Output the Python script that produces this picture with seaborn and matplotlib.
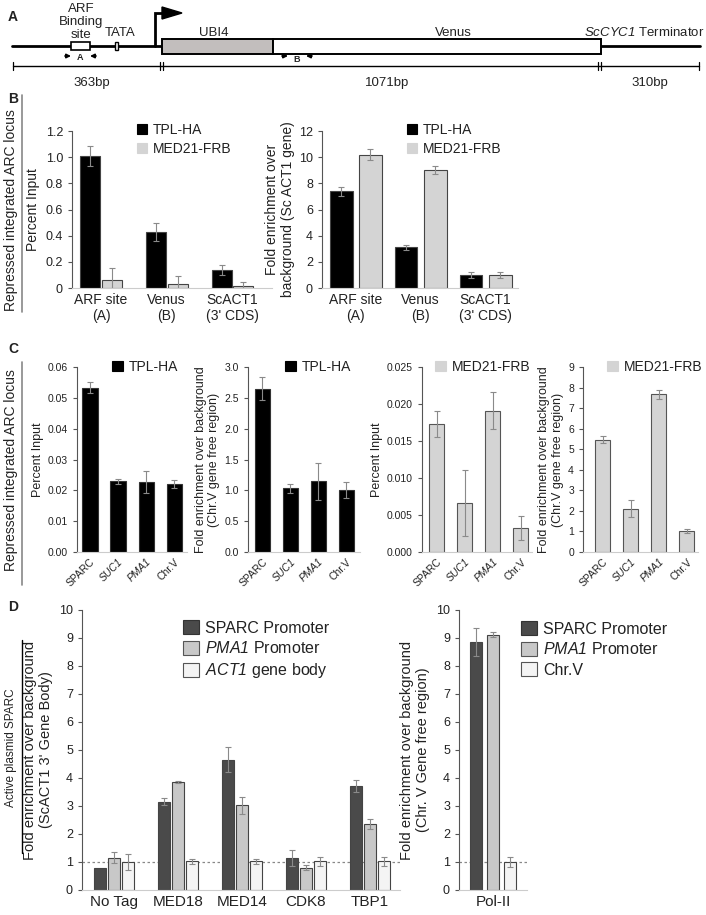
import numpy as np
import pandas as pd
import seaborn as sns
import matplotlib.pyplot as plt
from matplotlib.patches import Rectangle, Polygon, Patch
from matplotlib.lines import Line2D

# -------------------------------
# Style
# -------------------------------
sns.set_style("ticks")
plt.rcParams['font.family'] = ['Liberation Sans', 'DejaVu Sans']
# mathtext is only used for the italic gene names
plt.rcParams['mathtext.fontset'] = 'custom'
plt.rcParams['mathtext.rm'] = 'Liberation Sans:italic'
plt.rcParams['mathtext.it'] = 'Liberation Sans:italic'
plt.rcParams['mathtext.default'] = 'it'
plt.rcParams['text.color'] = '#222222'
plt.rcParams['axes.labelcolor'] = '#222222'
plt.rcParams['xtick.color'] = '#222222'
plt.rcParams['ytick.color'] = '#222222'

# -------------------------------
# Data
# -------------------------------
# A: construct map
seg_bp = ["363bp", "1071bp", "310bp"]

# B: repressed integrated ARC locus
b_sites = ["ARF site\n(A)", "Venus\n(B)", "ScACT1\n(3' CDS)"]
b_series = ["TPL-HA", "MED21-FRB"]
b_pct_tpl = [1.01, 0.43, 0.14]
b_pct_tpl_err = [0.075, 0.068, 0.038]
b_pct_med = [0.06, 0.03, 0.015]
b_pct_med_err = [0.09, 0.065, 0.03]
b_fold_tpl = [7.4, 3.1, 1.0]
b_fold_tpl_err = [0.35, 0.2, 0.2]
b_fold_med = [10.2, 9.0, 1.0]
b_fold_med_err = [0.45, 0.3, 0.2]

# C: SPARC / SUC1 / PMA1 / Chr.V
c_genes = ["SPARC", "SUC1", "PMA1", "Chr.V"]
c_tpl_pct = [0.0533, 0.0230, 0.0226, 0.0221]
c_tpl_pct_err = [0.0018, 0.0008, 0.0036, 0.0013]
c_tpl_fold = [2.65, 1.03, 1.15, 1.01]
c_tpl_fold_err = [0.19, 0.08, 0.30, 0.13]
c_med_pct = [0.0173, 0.0066, 0.0191, 0.0032]
c_med_pct_err = [0.0018, 0.0045, 0.0025, 0.0016]
c_med_fold = [5.47, 2.1, 7.68, 1.03]
c_med_fold_err = [0.15, 0.42, 0.22, 0.10]

# D: active plasmid SPARC
d_factors = ["No Tag", "MED18", "MED14", "CDK8", "TBP1"]
d_series = ["SPARC Promoter", "$PMA1$ Promoter", "$ACT1$ gene body"]
d_sparc = [0.80, 3.15, 4.65, 1.15, 3.72]
d_sparc_err = [0.0, 0.12, 0.45, 0.28, 0.22]
d_pma1 = [1.15, 3.86, 3.02, 0.80, 2.35]
d_pma1_err = [0.20, 0.05, 0.30, 0.08, 0.18]
d_act1 = [1.00, 1.02, 1.02, 1.02, 1.02]
d_act1_err = [0.30, 0.08, 0.08, 0.15, 0.15]
pol_series = ["SPARC Promoter", "$PMA1$ Promoter", "Chr.V"]
pol_vals = [8.85, 9.12, 1.0]
pol_err = [0.5, 0.1, 0.18]

W, H = 706, 915
fig = plt.figure(figsize=(W / 100, H / 100), dpi=100)


def px_axes(x0, y0, x1, y1):
    return fig.add_axes([x0 / W, 1 - y1 / H, (x1 - x0) / W, (y1 - y0) / H])


def draw_bars(ax, cats, series, values, errors, colors, width, gap, edge="#444444"):
    df = pd.DataFrame({
        "cat": [c for s in series for c in cats],
        "series": [s for s in series for c in cats],
        "value": [v for vals in values for v in vals],
        "err": [e for errs in errors for e in errs],
    })
    sns.barplot(data=df, x="cat", y="value", hue="series", order=cats, hue_order=series,
                palette=colors, width=width, gap=gap, edgecolor=edge, linewidth=0.8,
                errorbar=None, legend=False, ax=ax)
    for cont, s in zip(list(ax.containers), series):
        sub = df[df.series == s].set_index("cat")
        for bar in cont:
            xc = bar.get_x() + bar.get_width() / 2
            e = sub.loc[cats[int(round(xc))], "err"]
            if e > 0:
                ax.errorbar(xc, bar.get_height(), yerr=e, fmt="none", ecolor="#8a8a8a",
                            elinewidth=0.8, capsize=2, capthick=0.8)
    ax.set_xlabel("")
    ax.set_ylabel("")
    sns.despine(ax=ax)
    ax.spines['bottom'].set_color('#cccccc')
    ax.spines['left'].set_color('#555555')
    ax.spines['left'].set_linewidth(0.8)
    ax.tick_params(axis='x', length=0)
    ax.tick_params(axis='y', length=3, width=0.8, color='#555555')
    return df


def add_legend(ax, labels, colors, edges, x, y, size, box, spacing):
    handles = [Patch(facecolor=c, edgecolor=e, linewidth=0.8) for c, e in zip(colors, edges)]
    ax.legend(handles, labels, loc="upper left", bbox_to_anchor=(x / W, 1 - y / H),
              bbox_transform=fig.transFigure, frameon=False, fontsize=size,
              handlelength=box, handleheight=box, handletextpad=0.4,
              labelspacing=spacing, borderpad=0, borderaxespad=0)


# -------------------------------
# Panel A: construct schematic
# -------------------------------
axA = fig.add_axes([0, 1 - 96 / H, 1, 96 / H])
axA.set_xlim(0, W)
axA.set_ylim(96, 0)
axA.axis('off')
axA.plot([12, 162], [46, 46], color='k', lw=2)
axA.plot([601, 700], [46, 46], color='k', lw=2)
axA.add_patch(Rectangle((71, 42), 19, 8, fc='white', ec='k', lw=1.2, zorder=3))
axA.add_patch(Rectangle((115, 42), 3, 8, fc='white', ec='k', lw=1.0, zorder=3))
axA.add_patch(Rectangle((162, 39), 111, 15, fc='#c2bebd', ec='k', lw=1.4, zorder=3))
axA.add_patch(Rectangle((273, 39), 328, 15, fc='white', ec='k', lw=1.4, zorder=3))
axA.plot([155, 155, 163], [46, 13, 13], color='k', lw=2, solid_joinstyle='miter')
axA.add_patch(Polygon([(162, 7), (162, 19), (182, 13)], closed=True, fc='k', ec='k'))
axA.text(81, 22, "ARF\nBinding\nsite", ha='center', va='center', fontsize=9.5, linespacing=1.15)
axA.text(120, 33, "TATA", ha='center', va='center', fontsize=9.5)
axA.text(214, 33, "UBI4", ha='center', va='center', fontsize=9.5)
axA.text(453, 33, "Venus", ha='center', va='center', fontsize=9.5)
axA.text(704, 33, "$ScCYC1$ Terminator", ha='right', va='center', fontsize=9.5)
for x0, d in [(65, 1), (96, -1), (282, 1), (312, -1)]:
    axA.annotate("", xy=(x0 + 6 * d, 56), xytext=(x0, 56),
                 arrowprops=dict(arrowstyle='-|>', color='k', lw=1.2, mutation_scale=6,
                                 shrinkA=0, shrinkB=0))
axA.text(80, 58, "A", ha='center', va='center', fontsize=6.5, weight='bold')
axA.text(297, 59, "B", ha='center', va='center', fontsize=6.5, weight='bold')
axA.plot([13, 699], [66, 66], color='k', lw=1)
for xt in [13, 160, 163, 598, 601, 699]:
    axA.plot([xt, xt], [62, 70], color='k', lw=0.9)
for xt, lab in zip([92, 387, 650], seg_bp):
    axA.text(xt, 83, lab, ha='center', va='center', fontsize=9.5)

# -------------------------------
# Section labels and side bars
# -------------------------------
for lab, yy in [("A", 17), ("B", 99), ("C", 349), ("D", 607)]:
    fig.text(8 / W, 1 - yy / H, lab, fontsize=10, weight='bold', va='center', ha='left')
fig.add_artist(Line2D([22 / W, 22 / W], [1 - 95 / H, 1 - 312 / H], color='#888888', lw=1.2))
fig.add_artist(Line2D([22 / W, 22 / W], [1 - 362 / H, 1 - 585 / H], color='#888888', lw=1.2))
fig.add_artist(Line2D([22 / W, 22 / W], [1 - 640 / H, 1 - 853 / H], color='k', lw=1.0))
fig.text(11 / W, 1 - 210 / H, "Repressed integrated ARC locus", rotation=90,
         fontsize=10, ha='center', va='center')
fig.text(11 / W, 1 - 470 / H, "Repressed integrated ARC locus", rotation=90,
         fontsize=10, ha='center', va='center')
fig.text(11 / W, 1 - 748 / H, "Active plasmid SPARC", rotation=90,
         fontsize=8.5, ha='center', va='center')

tpl_col, med_col = "#000000", "#d4d4d4"

# -------------------------------
# Panel B
# -------------------------------
axB1 = px_axes(72, 131, 272, 288)
draw_bars(axB1, b_sites, b_series, [b_pct_tpl, b_pct_med], [b_pct_tpl_err, b_pct_med_err],
          [tpl_col, med_col], width=0.66, gap=0.08)
axB1.set_xlim(-0.44, 2.6)
axB1.set_ylim(0, 1.2)
axB1.set_yticks([0, 0.2, 0.4, 0.6, 0.8, 1.0, 1.2], ["0", "0.2", "0.4", "0.6", "0.8", "1.0", "1.2"])
axB1.set_ylabel("Percent Input", fontsize=10)
axB1.tick_params(axis='y', labelsize=9)
axB1.tick_params(axis='x', labelsize=10)
add_legend(axB1, b_series, [tpl_col, med_col], [tpl_col, med_col], 137, 123, 10, 0.75, 0.35)

axB2 = px_axes(322, 131, 518, 288)
draw_bars(axB2, b_sites, b_series, [b_fold_tpl, b_fold_med], [b_fold_tpl_err, b_fold_med_err],
          [tpl_col, med_col], width=0.9, gap=0.22)
axB2.set_xlim(-0.52, 2.5)
axB2.set_ylim(0, 12)
axB2.set_yticks(range(0, 13, 2))
axB2.set_ylabel("Fold enrichment over\nbackground (Sc ACT1 gene)", fontsize=10, labelpad=3)
axB2.tick_params(axis='y', labelsize=9)
axB2.tick_params(axis='x', labelsize=10)
add_legend(axB2, b_series, [tpl_col, med_col], [tpl_col, med_col], 407, 123, 10, 0.75, 0.35)

# -------------------------------
# Panel C
# -------------------------------
c_specs = [
    ((77, 367, 187, 552), (-0.46, 3.45), c_tpl_pct, c_tpl_pct_err, tpl_col, "TPL-HA",
     np.arange(0, 0.061, 0.01), "{:.2f}", "Percent Input", 112),
    ((248, 367, 360, 552), (-0.52, 3.5), c_tpl_fold, c_tpl_fold_err, tpl_col, "TPL-HA",
     np.arange(0, 3.01, 0.5), "{:.1f}", "Fold enrichment over background\n(Chr.V gene free region)", 285),
    ((422, 367, 532, 552), (-0.52, 3.4), c_med_pct, c_med_pct_err, med_col, "MED21-FRB",
     np.arange(0, 0.0251, 0.005), "{:.3f}", "Percent Input", 435),
    ((583, 367, 698, 552), (-0.71, 3.4), c_med_fold, c_med_fold_err, med_col, "MED21-FRB",
     np.arange(0, 9.1, 1), "{:.0f}", "Fold enrichment over background\n(Chr.V gene free region)", 607),
]
for box, xl, vals, errs, col, name, ticks, fmt, ylab, lx in c_specs:
    ax = px_axes(*box)
    draw_bars(ax, c_genes, [name], [vals], [errs], [col], width=0.54, gap=0,
              edge="#333333" if col == tpl_col else "#555555")
    ax.set_xlim(*xl)
    ax.set_ylim(0, ticks[-1])
    ax.set_yticks(ticks, [fmt.format(t) for t in ticks])
    ax.set_ylabel(ylab, fontsize=9, labelpad=3)
    ax.tick_params(axis='y', labelsize=7.5)
    for t in ax.get_xticklabels():
        t.set_rotation(45)
        t.set_ha('right')
        t.set_rotation_mode('anchor')
        t.set_fontsize(7.5)
        if t.get_text() in ("SUC1", "PMA1"):
            t.set_fontstyle('italic')
    add_legend(ax, [name], [col], [col], lx, 360, 10, 0.8, 0.3)

# -------------------------------
# Panel D
# -------------------------------
d_cols = ["#4a4a4a", "#c8c8c8", "#f4f4f4"]
d_edges = ["#333333", "#555555", "#555555"]
axD1 = px_axes(82, 610, 400, 890)
draw_bars(axD1, d_factors, d_series, [d_sparc, d_pma1, d_act1],
          [d_sparc_err, d_pma1_err, d_act1_err], d_cols, width=0.66, gap=0.14, edge="#444444")
axD1.axhline(1, ls=(0, (2, 2)), color='#888888', lw=0.9, zorder=0)
axD1.set_xlim(-0.5, 4.47)
axD1.set_ylim(0, 10)
axD1.set_yticks(range(0, 11))
axD1.set_ylabel("Fold enrichment over background\n(ScACT1 3' Gene Body)", fontsize=10.5, labelpad=4)
axD1.tick_params(axis='y', labelsize=9)
axD1.tick_params(axis='x', labelsize=11)
add_legend(axD1, d_series, d_cols, d_edges, 183, 620, 11.5, 1.0, 0.3)

axD2 = px_axes(459, 610, 527, 890)
draw_bars(axD2, ["Pol-II"], pol_series, [[v] for v in pol_vals], [[e] for e in pol_err],
          d_cols, width=0.78, gap=0.27, edge="#444444")
axD2.axhline(1, ls=(0, (2, 2)), color='#888888', lw=0.9, zorder=0)
axD2.set_xlim(-0.53, 0.53)
axD2.set_ylim(0, 10)
axD2.set_yticks(range(0, 11))
axD2.set_ylabel("Fold enrichment over background\n(Chr. V Gene free region)", fontsize=10.5, labelpad=4)
axD2.tick_params(axis='y', labelsize=9)
axD2.tick_params(axis='x', labelsize=11)
add_legend(axD2, pol_series, d_cols, d_edges, 521, 621, 11.5, 1.0, 0.3)

fig.savefig("out.png", dpi=100)
plt.close(fig)
